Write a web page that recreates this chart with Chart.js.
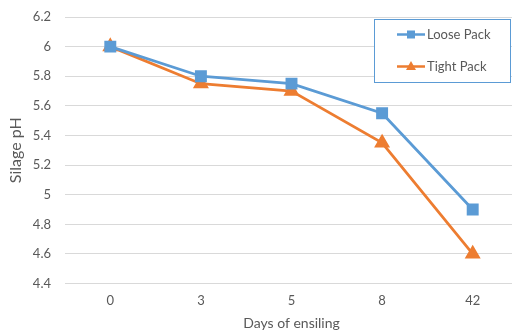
<!DOCTYPE html>
<html>
<head>
<meta charset="utf-8">
<script src="https://cdn.jsdelivr.net/npm/chart.js@4/dist/chart.umd.min.js"></script>
<style>
  html, body { margin: 0; padding: 0; background: #fff; overflow: hidden; }
  #wrap { width: 518px; height: 332px; }
</style>
</head>
<body>
<div id="wrap"><canvas id="c" width="518" height="332"></canvas></div>
<script>
const days = ['0', '3', '5', '8', '42'];
const loosePack = [6.0, 5.8, 5.75, 5.55, 4.9];
const tightPack = [6.0, 5.75, 5.7, 5.35, 4.6];

const FONT = 'Lato, "Open Sans", sans-serif';
const TEXT = '#595959';

// Boxed legend in the upper right of the plot
const boxLegend = {
  id: 'boxLegend',
  afterDraw(chart) {
    const ctx = chart.ctx;
    const x0 = 374.5, y0 = 19.5, w = 136, h = 63;
    ctx.save();
    ctx.fillStyle = '#fff';
    ctx.fillRect(x0, y0, w, h);
    ctx.strokeStyle = '#5B9BD5';
    ctx.lineWidth = 1;
    ctx.strokeRect(x0, y0, w, h);
    const rows = [34.5, 66.5];
    chart.data.datasets.forEach((ds, i) => {
      const y = rows[i];
      ctx.strokeStyle = ds.borderColor;
      ctx.lineWidth = 2.5;
      ctx.beginPath();
      ctx.moveTo(397, y);
      ctx.lineTo(425, y);
      ctx.stroke();
      ctx.fillStyle = ds.backgroundColor;
      if (ds.pointStyle === 'rect') {
        ctx.fillRect(407, y - 4, 8, 8);
      } else {
        ctx.beginPath();
        ctx.moveTo(411, y - 5.5);
        ctx.lineTo(416, y + 3.5);
        ctx.lineTo(406, y + 3.5);
        ctx.closePath();
        ctx.fill();
      }
      ctx.fillStyle = TEXT;
      ctx.font = '13px ' + FONT;
      ctx.textBaseline = 'middle';
      ctx.textAlign = 'left';
      ctx.fillText(ds.label, 427, y);
    });
    ctx.restore();
  }
};

new Chart(document.getElementById('c'), {
  type: 'line',
  data: {
    labels: days,
    datasets: [
      {
        label: 'Loose Pack',
        data: loosePack,
        borderColor: '#5B9BD5',
        backgroundColor: '#5B9BD5',
        borderWidth: 2.75,
        pointStyle: 'rect',
        pointRadius: 6.5,
        pointHoverRadius: 6.5,
        tension: 0
      },
      {
        label: 'Tight Pack',
        data: tightPack,
        borderColor: '#ED7D31',
        backgroundColor: '#ED7D31',
        borderWidth: 2.75,
        pointStyle: 'triangle',
        pointRadius: 6.5,
        pointHoverRadius: 6.5,
        tension: 0
      }
    ]
  },
  options: {
    responsive: false,
    animation: false,
    devicePixelRatio: 1,
    layout: { autoPadding: false, padding: { top: 17, right: 0, bottom: 0, left: 6 } },
    plugins: {
      legend: { display: false },
      tooltip: { enabled: false }
    },
    scales: {
      x: {
        offset: true,
        grid: { display: false },
        border: { display: false },
        afterFit: s => { s.paddingLeft = 0; s.paddingRight = 0; },
        ticks: { color: TEXT, font: { family: FONT, size: 13 }, padding: 1 },
        title: {
          display: true,
          text: 'Days of ensiling',
          color: TEXT,
          font: { family: FONT, size: 14 },
          padding: { top: 6, bottom: 0 }
        }
      },
      y: {
        min: 4.4,
        max: 6.2,
        grid: { color: '#D9D9D9', lineWidth: 1, drawTicks: false },
        border: { display: false },
        afterFit: s => { s.width = 59; s.paddingTop = 0; s.paddingBottom = 0; },
        ticks: {
          stepSize: 0.2,
          color: TEXT,
          font: { family: FONT, size: 13 },
          padding: 14,
          callback: v => String(parseFloat(v.toFixed(1)))
        },
        title: {
          display: true,
          text: 'Silage pH',
          color: TEXT,
          font: { family: FONT, size: 16 },
          padding: { top: 0, bottom: 2 }
        }
      }
    }
  },
  plugins: [boxLegend]
});
</script>
</body>
</html>
